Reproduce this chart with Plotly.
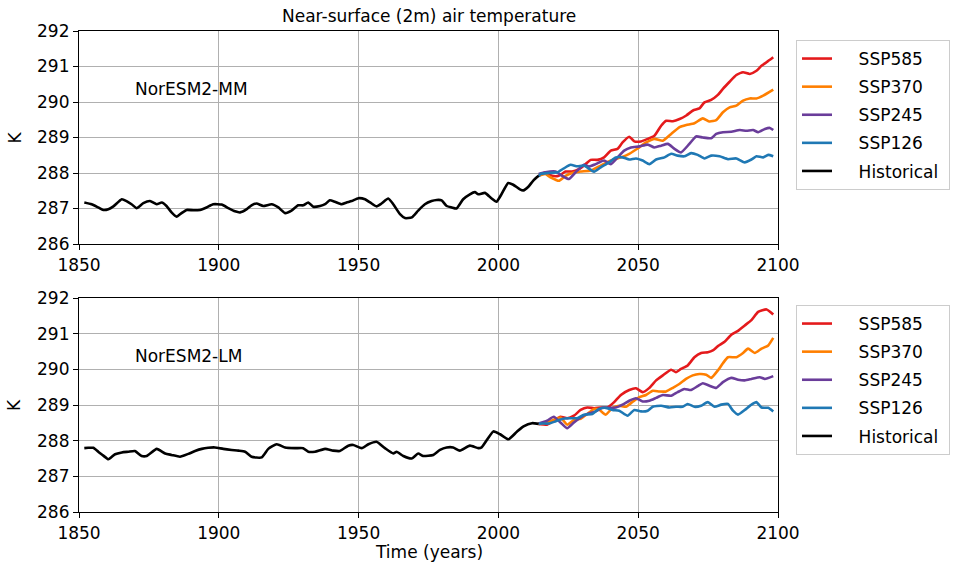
import plotly.graph_objects as go

# ---------------- data ----------------
mm_hist_years = [1851.9, 1854.5, 1856.9, 1858.7, 1860.5, 1862.3, 1865.3, 1867.0, 1868.8, 1870.6,
                 1873.0, 1875.4, 1877.8, 1879.6, 1881.3, 1883.1, 1884.9, 1886.7, 1888.5, 1890.9,
                 1893.3, 1895.6, 1898.0, 1901.0, 1903.4, 1905.8, 1907.6, 1910.0, 1911.7, 1913.5,
                 1915.9, 1918.9, 1921.3, 1923.7, 1926.0, 1928.4, 1930.2, 1932.0, 1933.8, 1936.2,
                 1938.0, 1939.7, 1941.5, 1943.9, 1945.7, 1947.5, 1949.9, 1952.3, 1954.1, 1956.4,
                 1958.2, 1960.6, 1962.4, 1964.8, 1966.6, 1969.0, 1971.3, 1973.7, 1976.1, 1977.9,
                 1979.7, 1981.5, 1983.3, 1985.0, 1987.4, 1989.8, 1991.6, 1992.8, 1995.2, 1997.6,
                 1999.3, 2001.1, 2003.5, 2005.3, 2007.7, 2008.9, 2010.8, 2012.4, 2014.4]
mm_hist_vals = [287.17, 287.12, 287.03, 286.96, 286.98, 287.06, 287.26, 287.21, 287.12, 287.01,
                287.15, 287.21, 287.12, 287.17, 287.07, 286.89, 286.77, 286.87, 286.96, 286.95,
                286.96, 287.03, 287.12, 287.11, 287.01, 286.92, 286.89, 286.98, 287.09, 287.14,
                287.07, 287.12, 287.03, 286.87, 286.94, 287.09, 287.09, 287.17, 287.05, 287.07,
                287.12, 287.23, 287.19, 287.12, 287.17, 287.21, 287.29, 287.26, 287.17, 287.06,
                287.14, 287.28, 287.12, 286.84, 286.73, 286.75, 286.94, 287.12, 287.21, 287.24,
                287.23, 287.07, 287.03, 287.00, 287.26, 287.40, 287.46, 287.40, 287.44, 287.28,
                287.19, 287.40, 287.72, 287.67, 287.54, 287.51, 287.62, 287.78, 287.92]

mm_585_years = [2014.4, 2016.8, 2019.2, 2021.6, 2024.0, 2026.4, 2028.8, 2031.2, 2033.0, 2035.4,
                2037.8, 2040.2, 2042.6, 2044.4, 2046.8, 2048.6, 2051.0, 2053.4, 2055.8, 2058.2,
                2060.0, 2062.4, 2064.8, 2067.2, 2069.6, 2071.9, 2073.7, 2076.1, 2078.5, 2080.3,
                2082.7, 2085.1, 2087.5, 2089.9, 2092.3, 2094.1, 2095.9, 2098.3]
mm_585_vals = [287.92, 288.02, 287.92, 287.92, 288.04, 288.04, 288.11, 288.25, 288.37, 288.37,
               288.44, 288.63, 288.68, 288.86, 289.02, 288.89, 288.89, 288.96, 289.05, 289.33,
               289.47, 289.46, 289.52, 289.62, 289.76, 289.82, 289.99, 290.06, 290.20, 290.37,
               290.57, 290.76, 290.84, 290.79, 290.88, 291.02, 291.12, 291.26]

mm_370_years = [2014.4, 2016.8, 2018.6, 2021.6, 2024.0, 2026.4, 2029.4, 2033.0, 2036.6, 2040.2,
                2043.8, 2046.8, 2049.8, 2052.8, 2055.8, 2058.8, 2061.8, 2064.8, 2067.2, 2070.1,
                2073.1, 2075.5, 2077.9, 2080.3, 2082.7, 2085.1, 2087.5, 2089.9, 2092.3, 2094.7,
                2098.3]
mm_370_vals = [287.92, 287.97, 287.88, 287.78, 287.92, 288.00, 288.04, 288.07, 288.21, 288.35,
               288.44, 288.54, 288.69, 288.86, 288.96, 288.91, 289.10, 289.29, 289.35, 289.40,
               289.54, 289.45, 289.49, 289.71, 289.85, 289.90, 290.04, 290.10, 290.10, 290.18,
               290.35]

mm_245_years = [2014.4, 2016.8, 2020.4, 2022.8, 2025.2, 2027.6, 2030.6, 2032.4, 2034.8, 2037.8,
                2040.2, 2042.6, 2045.0, 2047.4, 2050.4, 2053.4, 2055.8, 2058.2, 2060.6, 2063.0,
                2065.3, 2068.3, 2070.7, 2073.1, 2076.1, 2077.9, 2080.3, 2083.3, 2086.3, 2088.7,
                2091.1, 2092.9, 2095.3, 2097.1, 2098.3]
mm_245_vals = [287.97, 288.02, 288.04, 287.92, 287.83, 288.02, 288.23, 288.18, 288.25, 288.35,
               288.25, 288.44, 288.63, 288.72, 288.75, 288.80, 288.72, 288.77, 288.82, 288.68,
               288.58, 288.82, 289.03, 289.00, 288.98, 289.10, 289.15, 289.16, 289.21, 289.19,
               289.21, 289.15, 289.24, 289.27, 289.21]

mm_126_years = [2014.4, 2015.0, 2018.0, 2021.0, 2023.4, 2025.8, 2028.2, 2030.6, 2034.2, 2036.6,
                2039.6, 2042.0, 2044.4, 2046.8, 2049.2, 2051.6, 2054.0, 2056.4, 2059.4, 2061.8,
                2064.1, 2066.5, 2068.9, 2071.3, 2073.7, 2076.1, 2079.1, 2082.1, 2085.1, 2088.1,
                2090.5, 2092.3, 2094.7, 2096.5, 2098.3]
mm_126_vals = [287.90, 287.97, 288.00, 288.02, 288.13, 288.23, 288.19, 288.21, 288.04, 288.16,
               288.30, 288.44, 288.44, 288.38, 288.41, 288.35, 288.25, 288.38, 288.44, 288.54,
               288.49, 288.47, 288.56, 288.51, 288.41, 288.49, 288.47, 288.39, 288.41, 288.30,
               288.38, 288.47, 288.44, 288.51, 288.47]

lm_hist_years = [1851.9, 1853.3, 1855.1, 1856.9, 1858.7, 1860.5, 1862.9, 1865.3, 1867.6, 1870.0,
                 1872.4, 1874.2, 1877.8, 1880.8, 1883.1, 1886.1, 1889.1, 1891.5, 1893.9, 1896.2,
                 1898.6, 1901.6, 1904.6, 1907.0, 1909.4, 1911.7, 1915.3, 1917.7, 1920.7, 1923.7,
                 1927.2, 1930.2, 1932.0, 1934.4, 1938.0, 1940.9, 1943.3, 1946.3, 1948.1, 1951.1,
                 1953.5, 1956.4, 1959.4, 1962.4, 1963.6, 1966.0, 1969.0, 1971.3, 1973.1, 1976.7,
                 1979.1, 1981.5, 1983.8, 1986.2, 1989.8, 1992.8, 1994.0, 1998.2, 2000.6, 2003.6,
                 2006.6, 2009.0, 2012.0, 2014.4]
lm_hist_vals = [287.79, 287.80, 287.80, 287.69, 287.58, 287.48, 287.62, 287.67, 287.69, 287.71,
                287.57, 287.57, 287.77, 287.64, 287.60, 287.55, 287.63, 287.71, 287.77, 287.80,
                287.81, 287.77, 287.74, 287.72, 287.69, 287.55, 287.53, 287.77, 287.90, 287.81,
                287.79, 287.79, 287.69, 287.69, 287.77, 287.72, 287.71, 287.86, 287.88, 287.79,
                287.90, 287.97, 287.79, 287.64, 287.69, 287.57, 287.50, 287.64, 287.57, 287.60,
                287.74, 287.81, 287.81, 287.72, 287.86, 287.79, 287.81, 288.26, 288.18, 288.04,
                288.25, 288.40, 288.49, 288.47]

lm_585_years = [2014.4, 2015.0, 2017.4, 2019.8, 2022.2, 2024.6, 2027.0, 2029.4, 2031.8, 2034.2,
                2036.6, 2039.0, 2041.4, 2043.8, 2046.8, 2049.2, 2051.6, 2054.0, 2056.4, 2058.8,
                2061.8, 2063.5, 2065.3, 2067.7, 2070.1, 2072.5, 2074.9, 2076.7, 2078.5, 2080.9,
                2083.3, 2085.7, 2088.1, 2090.5, 2092.9, 2095.9, 2098.3]
lm_585_vals = [288.47, 288.46, 288.45, 288.56, 288.67, 288.63, 288.70, 288.86, 288.93, 288.91,
               288.93, 288.93, 289.08, 289.28, 289.42, 289.47, 289.36, 289.48, 289.69, 289.83,
               289.99, 289.92, 290.01, 290.11, 290.34, 290.46, 290.48, 290.53, 290.65, 290.77,
               290.97, 291.08, 291.23, 291.38, 291.61, 291.68, 291.54]

lm_370_years = [2014.4, 2017.4, 2019.8, 2022.2, 2024.6, 2027.0, 2029.4, 2031.8, 2034.2, 2036.0,
                2038.4, 2040.8, 2043.2, 2045.6, 2048.0, 2050.4, 2052.8, 2055.2, 2057.6, 2060.0,
                2062.4, 2064.7, 2067.1, 2069.5, 2071.9, 2074.3, 2076.1, 2078.5, 2080.3, 2082.1,
                2085.1, 2087.5, 2089.3, 2091.7, 2094.1, 2096.5, 2098.3]
lm_370_vals = [288.47, 288.51, 288.59, 288.65, 288.45, 288.58, 288.61, 288.75, 288.89, 288.87,
               288.73, 288.92, 288.98, 288.95, 289.09, 289.22, 289.28, 289.40, 289.38, 289.38,
               289.48, 289.59, 289.73, 289.83, 289.87, 289.85, 289.76, 289.97, 290.17, 290.34,
               290.34, 290.46, 290.58, 290.46, 290.58, 290.67, 290.88]

lm_245_years = [2014.4, 2017.4, 2019.8, 2022.2, 2024.6, 2027.0, 2029.4, 2031.8, 2034.8, 2037.2,
                2039.6, 2042.0, 2044.4, 2046.8, 2049.2, 2051.6, 2054.0, 2056.4, 2058.8, 2061.8,
                2064.1, 2066.5, 2068.9, 2071.3, 2073.1, 2075.5, 2077.9, 2080.3, 2083.3, 2085.7,
                2088.1, 2090.5, 2093.5, 2095.3, 2098.3]
lm_245_vals = [288.48, 288.56, 288.67, 288.51, 288.35, 288.51, 288.65, 288.75, 288.82, 288.92,
               288.92, 288.93, 289.01, 289.12, 289.19, 289.10, 289.12, 289.20, 289.28, 289.26,
               289.36, 289.45, 289.42, 289.53, 289.61, 289.54, 289.48, 289.64, 289.76, 289.71,
               289.69, 289.73, 289.78, 289.73, 289.81]

lm_126_years = [2014.4, 2015.6, 2018.0, 2020.4, 2022.8, 2025.2, 2028.2, 2030.6, 2033.6, 2036.0,
                2038.4, 2040.8, 2043.2, 2046.2, 2048.6, 2051.0, 2053.4, 2055.2, 2058.2, 2061.2,
                2063.5, 2065.9, 2067.7, 2070.1, 2072.5, 2074.9, 2077.3, 2079.7, 2082.1, 2083.9,
                2085.7, 2088.1, 2090.5, 2092.3, 2094.1, 2096.5, 2098.3]
lm_126_vals = [288.47, 288.48, 288.48, 288.54, 288.61, 288.63, 288.63, 288.73, 288.75, 288.89,
               288.92, 288.86, 288.84, 288.70, 288.86, 288.82, 288.84, 288.95, 288.98, 288.93,
               288.95, 288.95, 289.03, 288.95, 288.98, 289.08, 288.95, 289.01, 289.03, 288.84,
               288.73, 288.86, 289.01, 289.08, 288.93, 288.92, 288.82]

scenario_names = ["SSP585", "SSP370", "SSP245", "SSP126", "Historical"]
scenario_colors = ["#e41a1c", "#ff7f00", "#6a3d9a", "#1f78b4", "#000000"]
model_names = ["NorESM2-MM", "NorESM2-LM"]
title_text = "Near-surface (2m) air temperature"
x_ticks = [1850, 1900, 1950, 2000, 2050, 2100]
y_ticks = [286, 287, 288, 289, 290, 291, 292]

panels = [
    [(mm_585_years, mm_585_vals), (mm_370_years, mm_370_vals), (mm_245_years, mm_245_vals),
     (mm_126_years, mm_126_vals), (mm_hist_years, mm_hist_vals)],
    [(lm_585_years, lm_585_vals), (lm_370_years, lm_370_vals), (lm_245_years, lm_245_vals),
     (lm_126_years, lm_126_vals), (lm_hist_years, lm_hist_vals)],
]

# ---------------- figure ----------------
FONT = "DejaVu Sans"
W, H = 967, 572
L, T = 79, 31
PW, PH = 699, 481
R, B = W - L - PW, H - T - PH
LEAD = "\u00a0" * 4
TRAIL = "\u00a0"

fig = go.Figure()
for p, series in enumerate(panels):
    xa = "x" if p == 0 else "x2"
    ya = "y" if p == 0 else "y2"
    lg = "legend" if p == 0 else "legend2"
    for (xs, ys), name, col in zip(series, scenario_names, scenario_colors):
        fig.add_trace(go.Scatter(
            x=xs, y=ys, mode="lines", name=LEAD + name + TRAIL, xaxis=xa, yaxis=ya, legend=lg,
            legendgroup=f"{p}-{name}",
            line=dict(color=col, width=2.6, shape="spline", smoothing=0.5),
        ))

axis_common = dict(
    showline=True, mirror=True, linecolor="black", linewidth=1.2,
    ticks="outside", ticklen=5, tickwidth=1, tickcolor="black",
    showgrid=True, gridcolor="#b0b0b0", gridwidth=1,
    tickfont=dict(family=FONT, size=17, color="black"), zeroline=False,
)
# reference pixel rows: top axes 31..244, bottom axes 298..512 (plot block 31..512)
top_dom = [(512 - 244) / PH, 1.0]
bot_dom = [0.0, (512 - 298) / PH]

legend_common = dict(xanchor="left", yanchor="top", bordercolor="#cccccc", borderwidth=1,
                     bgcolor="white", font=dict(family=FONT, size=17), tracegroupgap=3,
                     traceorder="grouped")
fig.update_layout(
    width=W, height=H,
    margin=dict(l=L, r=R, t=T, b=B),
    paper_bgcolor="white", plot_bgcolor="white",
    font=dict(family=FONT, size=17, color="black"),
    xaxis=dict(range=[1850, 2100], tickvals=x_ticks, domain=[0, 1], anchor="y", **axis_common),
    yaxis=dict(range=[286, 292], tickvals=y_ticks, domain=top_dom, anchor="x", **axis_common),
    xaxis2=dict(range=[1850, 2100], tickvals=x_ticks, domain=[0, 1], anchor="y2", **axis_common),
    yaxis2=dict(range=[286, 292], tickvals=y_ticks, domain=bot_dom, anchor="x2", **axis_common),
    legend=dict(x=(796 - 79) / PW, y=(512 - 40) / PH, **legend_common),
    legend2=dict(x=(796 - 79) / PW, y=(512 - 305) / PH, **legend_common),
    showlegend=True,
)

ann = []
ann.append(dict(text=title_text, xref="paper", yref="paper", x=0.5, y=1.0, yanchor="bottom",
                yshift=3, showarrow=False, font=dict(family=FONT, size=17)))
for xr, yr, nm in (("x", "y", model_names[0]), ("x2", "y2", model_names[1])):
    ann.append(dict(text=nm, xref=xr, yref=yr, x=1869.3, y=290.37, xanchor="left",
                    yanchor="middle", showarrow=False, font=dict(family=FONT, size=17)))
for dom in (top_dom, bot_dom):
    ann.append(dict(text="K", xref="paper", yref="paper", x=(14 - 79) / PW, y=sum(dom) / 2,
                    xanchor="center", yanchor="middle", textangle=-90, showarrow=False,
                    font=dict(family=FONT, size=17)))
ann.append(dict(text="Time (years)", xref="paper", yref="paper", x=0.5, y=(512 - 552) / PH,
                xanchor="center", yanchor="middle", showarrow=False, font=dict(family=FONT, size=17)))
fig.update_layout(annotations=ann)

# remove the default page margin so the figure sits at the window's top-left corner
fig.write_html("out.html", config={"displayModeBar": False},
               post_script="document.body.style.margin='0';document.body.style.overflow='hidden';")
